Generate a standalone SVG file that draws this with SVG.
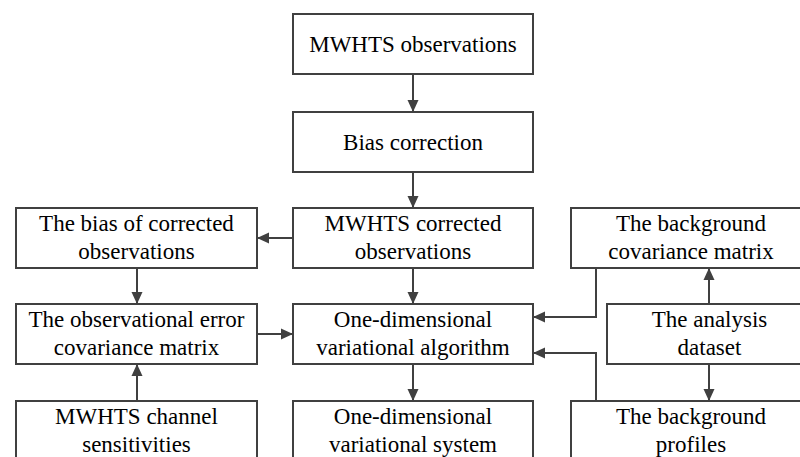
<svg xmlns="http://www.w3.org/2000/svg" width="800" height="457" viewBox="0 0 800 457">
<style>
.box{fill:#fff;stroke:#404040;stroke-width:2}
.c{fill:none;stroke:#404040;stroke-width:2}
</style>
<defs>
<marker id="ah" markerUnits="userSpaceOnUse" markerWidth="12" markerHeight="12" viewBox="0 0 12 12" refX="12" refY="6" orient="auto">
<path d="M0,0.5 L12,6 L0,11.5 Z" fill="#404040"/>
</marker>
</defs>
<rect width="800" height="457" fill="#fff"/>
<g id="connectors">
<path class="c" d="M413,74 V112" marker-end="url(#ah)"/>
<path class="c" d="M413,172 V208" marker-end="url(#ah)"/>
<path class="c" d="M293,238 H257" marker-end="url(#ah)"/>
<path class="c" d="M413,268 V304" marker-end="url(#ah)"/>
<path class="c" d="M137,268 V304" marker-end="url(#ah)"/>
<path class="c" d="M257,334 H293" marker-end="url(#ah)"/>
<path class="c" d="M137,401 V364" marker-end="url(#ah)"/>
<path class="c" d="M413,364 V401" marker-end="url(#ah)"/>
<path class="c" d="M596,268 V317 H533" marker-end="url(#ah)"/>
<path class="c" d="M596,401 V353 H533" marker-end="url(#ah)"/>
<path class="c" d="M709,304 V268" marker-end="url(#ah)"/>
<path class="c" d="M709,364 V401" marker-end="url(#ah)"/>
</g>
<g font-family="Liberation Serif, Times New Roman, serif" font-size="23" fill="#000" text-anchor="middle">
<g id="n-obs"><rect class="box" x="293" y="14" width="240" height="60"/><text x="413" y="52">MWHTS observations</text></g>
<g id="n-bias"><rect class="box" x="293" y="112" width="240" height="60"/><text x="413" y="150">Bias correction</text></g>
<g id="n-corrected"><rect class="box" x="293" y="208" width="240" height="60"/><text x="413" y="231">MWHTS corrected</text><text x="413" y="259">observations</text></g>
<g id="n-biascorr"><rect class="box" x="16" y="208" width="241" height="60"/><text x="136.5" y="231">The bias of corrected</text><text x="136.5" y="259">observations</text></g>
<g id="n-obserr"><rect class="box" x="16" y="304" width="241" height="60"/><text x="136.5" y="327">The observational error</text><text x="136.5" y="355">covariance matrix</text></g>
<g id="n-alg"><rect class="box" x="293" y="304" width="240" height="60"/><text x="413" y="327">One-dimensional</text><text x="413" y="355">variational algorithm</text></g>
<g id="n-channel"><rect class="box" x="16" y="401" width="241" height="60"/><text x="136.5" y="424">MWHTS channel</text><text x="136.5" y="452">sensitivities</text></g>
<g id="n-system"><rect class="box" x="293" y="401" width="240" height="60"/><text x="413" y="424">One-dimensional</text><text x="413" y="452">variational system</text></g>
<g id="n-bgcov"><rect class="box" x="571" y="208" width="240" height="60"/><text x="691" y="231">The background</text><text x="691" y="259">covariance matrix</text></g>
<g id="n-analysis"><rect class="box" x="607" y="304" width="205" height="60"/><text x="709.5" y="327">The analysis</text><text x="709.5" y="355">dataset</text></g>
<g id="n-bgprof"><rect class="box" x="571" y="401" width="240" height="60"/><text x="691" y="424">The background</text><text x="691" y="452">profiles</text></g>
</g>
</svg>
